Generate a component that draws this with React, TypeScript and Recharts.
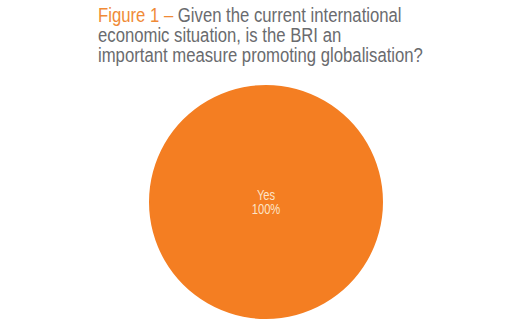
import React from 'react';
import { PieChart, Pie, Cell } from 'recharts';

const answers = ['Yes'];
const shares = [100];
const COLORS = ['#F47E22'];

const titleAccent = 'Figure 1 –';
const titleLines = [
  'Given the current international',
  'economic situation, is the BRI an',
  'important measure promoting globalisation?',
];

const data = answers.map((name, i) => ({ name, value: shares[i] }));

const FONT = "'Liberation Sans', Arial, sans-serif";
// the title face is a narrow sans; squeeze Liberation Sans to match
const SQUEEZE = 0.835;

const renderLabel = (props: any) => {
  const { cx, cy, name, percent } = props;
  return (
    <g transform={`translate(${cx},${cy}) scale(0.8,1)`}>
      <text textAnchor="middle" fill="#FCE4C8" fontFamily={FONT} fontSize={14}>
        <tspan x={0} y={-2}>{name}</tspan>
        <tspan x={0} y={12.5}>{`${(percent * 100).toFixed(0)}%`}</tspan>
      </text>
    </g>
  );
};

export default function App() {
  return (
    <div style={{ position: 'absolute', left: 0, top: 0, width: 520, height: 321, background: '#fff' }}>
      <div
        style={{
          position: 'absolute',
          left: 98,
          top: 5,
          fontFamily: FONT,
          fontSize: 20,
          lineHeight: '20.2px',
          color: '#6a6b6e',
          whiteSpace: 'nowrap',
          transform: `scaleX(${SQUEEZE})`,
          transformOrigin: 'left top',
        }}
      >
        {titleLines.map((line, i) => (
          <div key={i}>
            {i === 0 && <span style={{ color: '#F08A36' }}>{titleAccent} </span>}
            {line}
          </div>
        ))}
      </div>
      <PieChart width={520} height={321} style={{ position: 'absolute', left: 0, top: 0 }}>
        <Pie
          data={data}
          dataKey="value"
          nameKey="name"
          cx={261}
          cy={197}
          outerRadius={117}
          startAngle={90}
          endAngle={-270}
          stroke="none"
          labelLine={false}
          label={renderLabel}
          isAnimationActive={false}
        >
          {data.map((entry, index) => (
            <Cell key={`cell-${index}`} fill={COLORS[index % COLORS.length]} />
          ))}
        </Pie>
      </PieChart>
    </div>
  );
}
